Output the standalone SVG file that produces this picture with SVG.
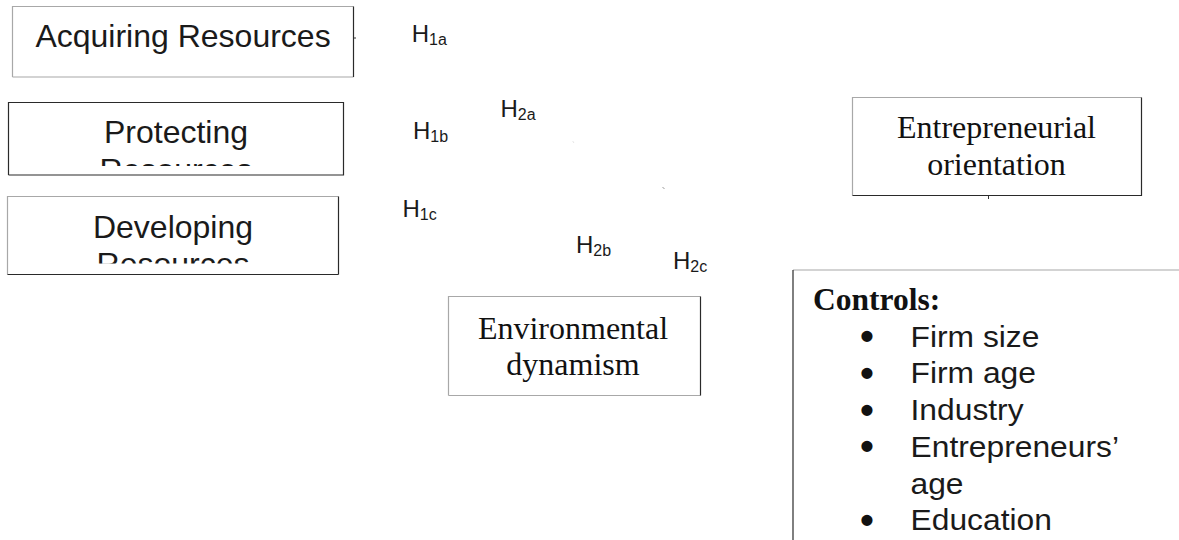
<svg xmlns="http://www.w3.org/2000/svg" width="1179" height="540" viewBox="0 0 1179 540">
<style>
.bg{fill:#ffffff;stroke:none}
.lt{stroke:#a8a8a8;stroke-width:1.2;fill:none}
.dk{stroke:#2a2a2a;stroke-width:1.2;fill:none}
.sans{font-family:"Liberation Sans",Arial,sans-serif;fill:#1a1a1a}
.serif{font-family:"Liberation Serif","Times New Roman",serif;fill:#111}
.big{font-size:32px}
.list{font-size:30px}
.bul{font-family:"DejaVu Sans",sans-serif;font-size:32px;fill:#111;stroke:#111;stroke-width:1.8}
.h{font-size:24px}
.sub{font-size:16px}
.cn{stroke:#333;stroke-width:1;fill:none}
</style>
<defs>
<clipPath id="clipProt"><rect x="9" y="103" width="334" height="63"/></clipPath>
<clipPath id="clipDev"><rect x="8" y="197" width="330" height="66.5"/></clipPath>
</defs>
<rect x="0" y="0" width="1179" height="540" fill="#ffffff"/>

<g id="connectors">
<line class="cn" x1="353" y1="38" x2="356" y2="38"/>
<line x1="573" y1="141.5" x2="573.6" y2="142.5" stroke="#ccc" stroke-width="1"/>
<line class="cn" x1="663" y1="187.5" x2="664" y2="188.5"/>
<line class="cn" x1="988.5" y1="196" x2="988.5" y2="199"/>
</g>

<g id="acquiring">
<rect class="bg" x="12.5" y="6.5" width="341" height="70.5"/>
<polyline class="lt" points="12.5,77 12.5,6.5 353.5,6.5"/>
<line class="lt" x1="12.5" y1="77" x2="353.5" y2="77"/>
<line class="dk" x1="353.5" y1="6.5" x2="353.5" y2="77"/>
<text class="sans big" x="183" y="47" text-anchor="middle">Acquiring Resources</text>
</g>

<g id="protecting">
<rect class="bg" x="8.5" y="102.5" width="335" height="72.5"/>
<polyline class="dk" points="8.5,175 8.5,102.5 343.5,102.5 343.5,175 8.5,175" stroke="#555"/>
<g clip-path="url(#clipProt)">
<text class="sans big" x="176" y="142.7" text-anchor="middle">Protecting</text>
<text class="sans big" x="176" y="181" text-anchor="middle">Resources</text>
</g>
</g>

<g id="developing">
<rect class="bg" x="7.5" y="196.5" width="331" height="78"/>
<polyline class="lt" points="7.5,274.5 7.5,196.5 338.5,196.5"/>
<line class="dk" x1="338.5" y1="196.5" x2="338.5" y2="274.5"/>
<line class="dk" x1="7.5" y1="274.5" x2="338.5" y2="274.5" stroke="#000"/>
<g clip-path="url(#clipDev)">
<text class="sans big" x="173" y="238.3" text-anchor="middle">Developing</text>
<text class="sans big" x="173" y="275" text-anchor="middle">Resources</text>
</g>
</g>

<g id="entrepreneurial">
<rect class="bg" x="852.5" y="97.5" width="289" height="98"/>
<polyline class="lt" points="852.5,195.5 852.5,97.5 1141.5,97.5"/>
<polyline class="dk" points="1141.5,97.5 1141.5,195.5 852.5,195.5"/>
<text class="serif big" x="996.5" y="138" text-anchor="middle">Entrepreneurial</text>
<text class="serif big" x="996.5" y="175" text-anchor="middle">orientation</text>
</g>

<g id="environmental">
<rect class="bg" x="448.5" y="296.5" width="252" height="99"/>
<polyline class="lt" points="448.5,395.5 448.5,296.5 700.5,296.5"/>
<line class="lt" x1="448.5" y1="395.5" x2="700.5" y2="395.5"/>
<line class="dk" x1="700.5" y1="296.5" x2="700.5" y2="395.5"/>
<text class="serif big" x="573" y="339" text-anchor="middle">Environmental</text>
<text class="serif big" x="573" y="375" text-anchor="middle">dynamism</text>
</g>

<g id="controls">
<rect class="bg" x="793" y="270" width="386" height="270"/>
<line class="lt" x1="793" y1="270" x2="1179" y2="270" stroke="#777"/>
<line class="dk" x1="793" y1="270" x2="793" y2="540"/>
<text class="serif" x="813" y="310" font-size="31.5" font-weight="bold">Controls:</text>
<g class="bul" text-anchor="middle">
<text x="867" y="348">•</text>
<text x="867" y="384.8">•</text>
<text x="867" y="421.6">•</text>
<text x="867" y="458.4">•</text>
<text x="867" y="532">•</text>
</g>
<g class="sans list" transform="translate(910.5 0) scale(1.06 1)">
<text x="0" y="346.7">Firm size</text>
<text x="0" y="383.4">Firm age</text>
<text x="0" y="420.2">Industry</text>
<text x="0" y="457">Entrepreneurs’</text>
<text x="0" y="493.7">age</text>
<text x="0" y="530.4">Education</text>
</g>
</g>

<g id="labels" class="sans">
<text class="h" x="411.7" y="42.3">H<tspan class="sub" dy="3">1a</tspan></text>
<text class="h" x="413" y="139.3">H<tspan class="sub" dy="3">1b</tspan></text>
<text class="h" x="500.5" y="116.5">H<tspan class="sub" dy="3">2a</tspan></text>
<text class="h" x="402.5" y="216.5">H<tspan class="sub" dy="3">1c</tspan></text>
<text class="h" x="576" y="252.5">H<tspan class="sub" dy="3">2b</tspan></text>
<text class="h" x="673" y="269.3">H<tspan class="sub" dy="3">2c</tspan></text>
</g>
</svg>
